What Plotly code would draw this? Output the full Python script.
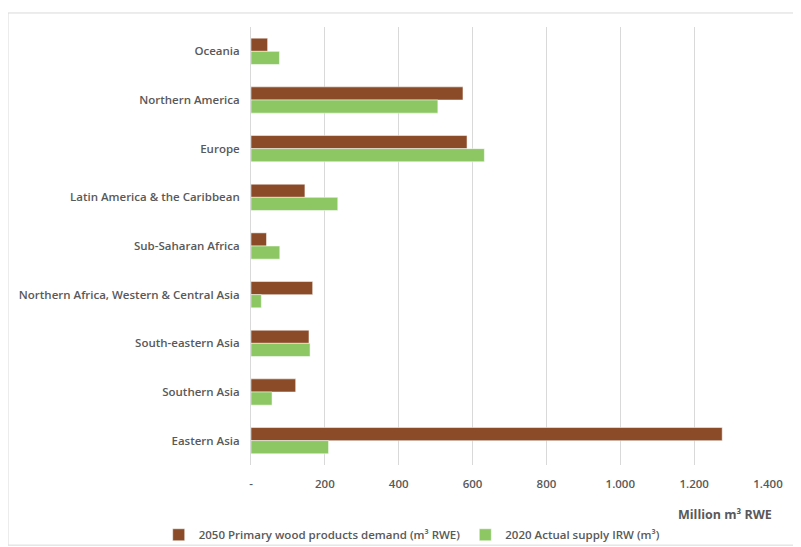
import plotly.graph_objects as go

regions = ["Oceania", "Northern America", "Europe", "Latin America & the Caribbean",
           "Sub-Saharan Africa", "Northern Africa, Western & Central Asia",
           "South-eastern Asia", "Southern Asia", "Eastern Asia"]
demand_2050 = [45, 574, 585, 146, 42, 167, 157, 121, 1276]
supply_2020 = [77, 506, 632, 235, 78, 28, 160, 57, 210]
tick_vals = [0, 200, 400, 600, 800, 1000, 1200, 1400]
tick_text = ["-", "200", "400", "600", "800", "1.000", "1.200", "1.400"]

BROWN = "#8C4B28"
GREEN = "#8CC764"
TXT = "#595959"
FONT = "Open Sans"
FSZ = 11.5
FW = 600

fig = go.Figure()
fig.add_trace(go.Bar(y=regions, x=demand_2050, orientation="h",
                     name="2050 Primary wood products demand (m³ RWE)",
                     marker=dict(color=BROWN, line=dict(color="rgba(255,255,255,0.5)", width=1))))
fig.add_trace(go.Bar(y=regions, x=supply_2020, orientation="h",
                     name="2020 Actual supply IRW (m³)",
                     marker=dict(color=GREEN, line=dict(color="rgba(255,255,255,0.5)", width=1))))

fig.update_layout(
    width=801, height=547,
    barmode="group", bargap=0.46, bargroupgap=0,
    plot_bgcolor="white", paper_bgcolor="white",
    margin=dict(l=243, r=41, t=19, b=90, autoexpand=False),
    font=dict(family=FONT, size=FSZ, color=TXT, weight=FW),
    showlegend=True,
    legend=dict(orientation="h", xref="container", yref="container",
                x=0.504, xanchor="center", y=0.037, yanchor="middle",
                bgcolor="rgba(0,0,0,0)",
                font=dict(family=FONT, size=FSZ, color=TXT, weight=FW), itemwidth=30,
                traceorder="normal"),
    xaxis=dict(range=[0, 1400], tickvals=tick_vals, ticktext=tick_text,
               showgrid=True, gridcolor="#D9D9D9", gridwidth=1, zeroline=False,
               showline=False, tickfont=dict(family=FONT, size=FSZ, color=TXT, weight=FW),
               ticks="outside", ticklen=8, tickcolor="white", fixedrange=True),
    yaxis=dict(autorange="reversed", showgrid=False, zeroline=False,
               showline=True, linecolor="#D9D9D9", linewidth=1,
               ticks="outside", ticklen=8, tickcolor="white",
               tickfont=dict(family=FONT, size=FSZ, color=TXT, weight=FW)),
)
fig.add_annotation(text="Million m³ RWE", xref="paper", yref="paper",
                   x=1.012, y=-0.114, xanchor="right", yanchor="middle",
                   showarrow=False, font=dict(family=FONT, size=12.5, color=TXT, weight=700))
fig.add_shape(type="rect", xref="paper", yref="paper",
              x0=-0.47, x1=1.052, y0=-0.183, y1=1.032,
              line=dict(color="#D9D9D9", width=1), fillcolor="rgba(0,0,0,0)", layer="below")

fig.write_html("out.html")
